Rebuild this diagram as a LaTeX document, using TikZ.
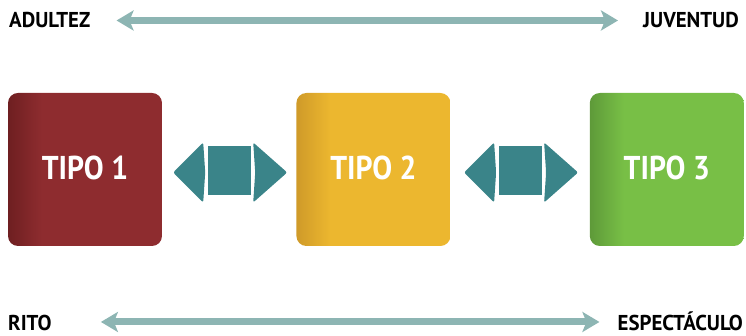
\documentclass[tikz,border=0pt]{standalone}
\usepackage{fontspec}
\newfontfamily\tipofont{PT Sans}[FakeStretch=0.9]
\newfontfamily\axisfont{PT Sans}[FakeStretch=0.97]
\usetikzlibrary{positioning,calc,arrows.meta}

\definecolor{tipored}{HTML}{8E2C2F}
\definecolor{tiporeddark}{HTML}{6E1F21}
\definecolor{tipoyellow}{HTML}{ECB72F}
\definecolor{tipoyellowdark}{HTML}{CF9A29}
\definecolor{tipogreen}{HTML}{78BF46}
\definecolor{tipogreendark}{HTML}{5E9A39}
\definecolor{linkteal}{HTML}{3A8489}
\definecolor{axisgrey}{HTML}{8DB5B3}

% darker left edge on each box
\pgfdeclarehorizontalshading{redside}{100bp}{color(0bp)=(tiporeddark); color(25bp)=(tiporeddark); color(36bp)=(tipored); color(100bp)=(tipored)}
\pgfdeclarehorizontalshading{yellowside}{100bp}{color(0bp)=(tipoyellowdark); color(25bp)=(tipoyellowdark); color(36bp)=(tipoyellow); color(100bp)=(tipoyellow)}
\pgfdeclarehorizontalshading{greenside}{100bp}{color(0bp)=(tipogreendark); color(25bp)=(tipogreendark); color(36bp)=(tipogreen); color(100bp)=(tipogreen)}

\begin{document}
\begin{tikzpicture}[
    x=1pt, y=1pt,
    node distance=134pt,
    tipobox/.style={rectangle, rounded corners=10pt, minimum width=154pt, minimum height=153pt,
        inner sep=0pt, shading=#1, text=white, font=\tipofont\bfseries\fontsize{33}{36}\selectfont},
    axislabel/.style={inner sep=0pt, font=\axisfont\bfseries\fontsize{21.5}{24}\selectfont},
    axisarrow/.style={axisgrey, line width=7pt, {Stealth[length=17pt, width=20pt, inset=4pt]}-{Stealth[length=17pt, width=20pt, inset=4pt]}},
    linkarrow/.pic={
        \fill[linkteal, rounded corners=2pt] (-56,0) -- (-26,30) -- (-24,0) -- (-26,-30) -- cycle;
        \fill[linkteal, rounded corners=2pt] (58,0) -- (24,30) -- (26,0) -- (24,-30) -- cycle;
        \fill[linkteal] (-21,-23) rectangle (22,26);
    }
]
\useasboundingbox (0,0) rectangle (746,336);

% the three types
\node[tipobox=redside] (tipo1) at (85,166.5) {\raisebox{4pt}{TIPO 1}};
\node[tipobox=yellowside, right=of tipo1] (tipo2) {\raisebox{4pt}{TIPO 2}};
\node[tipobox=greenside, right=139pt of tipo2] (tipo3) {\raisebox{4pt}{TIPO 3}};

\pic at ([yshift=-3pt]$(tipo1.east)!0.5!(tipo2.west)$) {linkarrow};
\pic at ([yshift=-3pt]$(tipo2.east)!0.5!(tipo3.west)$) {linkarrow};

% axis labels
\node[axislabel, anchor=base west] (adultez) at (9,308) {ADULTEZ};
\node[axislabel, anchor=base east] (juventud) at (739,308) {JUVENTUD};
\node[axislabel, anchor=base west] (rito) at (8,5.5) {RITO};
\node[axislabel, anchor=base east] (espectaculo) at (743,5) {ESPECTÁCULO};

\draw[axisarrow] ([xshift=26pt]adultez.east) -- ([xshift=-25pt]juventud.west);
\draw[axisarrow] ([xshift=49pt, yshift=1pt]rito.east) -- ([xshift=-18pt, yshift=1pt]rito.east -| espectaculo.west);

\end{tikzpicture}
\end{document}
